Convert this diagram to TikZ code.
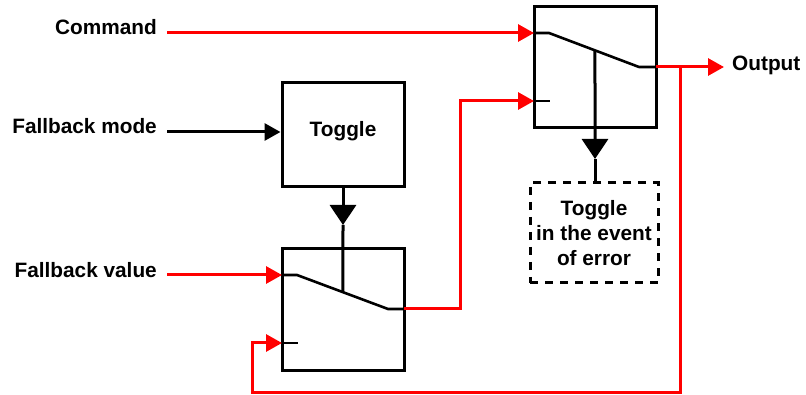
\documentclass[tikz,border=0pt]{standalone}
\usepackage{fontspec}
\setmainfont{Liberation Sans}
\usetikzlibrary{arrows.meta,calc}
\begin{document}
\begin{tikzpicture}[x=1pt,y=-1pt,
  font=\fontsize{20.8}{25}\selectfont\bfseries,
  box/.style={draw, line width=3pt, inner sep=0pt, minimum width=122pt},
  errbox/.style={draw, line width=3pt, dash pattern=on 8pt off 7pt, inner sep=0pt,
     minimum width=128pt, minimum height=100pt, align=center},
  lbl/.style={inner sep=0pt},
  sig/.style={red, line width=3pt},
  ctl/.style={black, line width=3pt},
  inner/.style={black, line width=2.6pt},
  tip/.style={-{Triangle[length=16pt,width=17pt]}},
  bigtip/.style={-{Triangle[length=20pt,width=26pt]}}]
\useasboundingbox (0,0) rectangle (806,395);

% boxes
\node[box, minimum height=104pt] (toggle) at (343,135) {};
\node[lbl, anchor=base] (togtxt) at (343,137) {Toggle};
\node[box, minimum height=121pt] (sw1) at (343,309.5) {};
\node[box, minimum height=121pt] (sw2) at (595,67.5) {};
\node[errbox] (err) at (594,233) {Toggle\\in the event\\of error};

% labels
\node[lbl, anchor=base east] (cmd) at (157,35) {Command};
\node[lbl, anchor=base east] (fbm) at (157,134) {Fallback mode};
\node[lbl, anchor=base east] (fbv) at (157,278) {Fallback value};
\node[lbl, anchor=base west] (out) at (732,71) {Output};

% switch 2 internals
\coordinate (s2a) at (534,33);
\coordinate (s2b) at (549,33);
\coordinate (s2c) at (639,67);
\coordinate (s2d) at (656,67);
\coordinate (s2e) at (534,101);
\coordinate (s2f) at (550,101);
\coordinate (s2m) at ($(s2b)!0.511!(s2c)$);
\draw[inner, line join=round] (s2a) -- (s2b) -- (s2c) -- (s2d);
\draw[inner] (s2e) -- (s2f);

% switch 1 internals
\coordinate (s1a) at (282,275);
\coordinate (s1b) at (297,275);
\coordinate (s1c) at (388,309);
\coordinate (s1d) at (404,309);
\coordinate (s1e) at (282,343);
\coordinate (s1f) at (298,343);
\coordinate (s1m) at ($(s1b)!0.505!(s1c)$);
\draw[inner, line join=round] (s1a) -- (s1b) -- (s1c) -- (s1d);
\draw[inner] (s1e) -- (s1f);

% control lines
\coordinate (t1) at (343,225);
\draw[ctl, bigtip] (toggle.south) -- (t1);
\draw[ctl] (t1) -- (s1m);
\coordinate (t2) at (595,159);
\draw[ctl, bigtip] (s2m) -- (t2);
\draw[ctl] (t2) -- (t2 |- err.north);

% inputs
\coordinate (cmdS) at (167,33);
\coordinate (fbmS) at (167,132);
\coordinate (fbvS) at (167,275);
\draw[sig, tip] (cmdS) -- (s2a);
\draw[ctl, tip] (fbmS) -- (fbmS -| toggle.west);
\draw[sig, tip] (fbvS) -- (s1a);

% wire sw1 -> sw2
\coordinate (w1) at (460,309);
\coordinate (w2) at (460,101);
\draw[sig, tip] (s1d) -- (w1) -- (w2) -- (s2e);

% output
\coordinate (outE) at (724,67);
\draw[sig, tip] (s2d) -- (outE);

% feedback
\coordinate (f0) at (680,67);
\coordinate (f1) at (680,392);
\coordinate (f2) at (252,392);
\coordinate (f3) at (252,343);
\draw[sig, tip] (f0) -- (f1) -- (f2) -- (f3) -- (s1e);
\end{tikzpicture}
\end{document}
